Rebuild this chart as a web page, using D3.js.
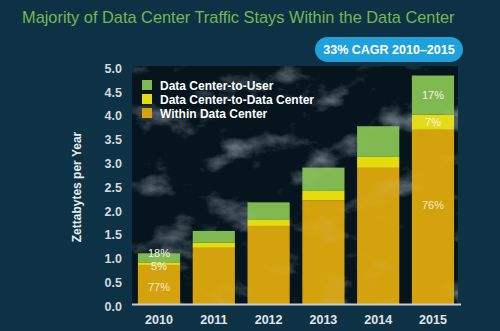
<!DOCTYPE html>
<html lang="en">
<head>
<meta charset="utf-8">
<title>Data Center Traffic</title>
<style>
  html, body { margin: 0; padding: 0; background: #0e3245; }
  svg { display: block; font-family: 'Liberation Sans', Arial, sans-serif; }
</style>
<script src="https://cdn.jsdelivr.net/npm/d3@7"></script>
</head>
<body>
<script>
// traffic per year, zettabytes
var years = ["2010", "2011", "2012", "2013", "2014", "2015"];
var withinDC = [0.82, 1.18, 1.64, 2.18, 2.86, 3.66];
var dcToDc = [0.055, 0.105, 0.126, 0.195, 0.23, 0.32];
var dcToUser = [0.19, 0.25, 0.37, 0.49, 0.645, 0.82];
var seriesNames = ["Data Center-to-User", "Data Center-to-Data Center", "Within Data Center"];
var yTicks = [0, 0.5, 1, 1.5, 2, 2.5, 3, 3.5, 4, 4.5, 5];
var labelledYears = ["2010", "2015"];

var W = 500, H = 331;
var plot = { left: 132, right: 458, top: 66, bottom: 304 };

var colors = {
    "Within Data Center": "#d4a20c",
    "Data Center-to-Data Center": "#e6dc0a",
    "Data Center-to-User": "#7fb94f"
};

var svg = d3.select("body").append("svg")
    .attr("width", W)
    .attr("height", H);

var defs = svg.append("defs");

// wispy haze for the plot backdrop
var f = defs.append("filter").attr("id", "clouds")
    .attr("x", 0).attr("y", 0).attr("width", "100%").attr("height", "100%");
f.append("feTurbulence")
    .attr("type", "fractalNoise")
    .attr("baseFrequency", "0.02 0.03")
    .attr("numOctaves", 5)
    .attr("seed", 11);
f.append("feColorMatrix")
    .attr("type", "matrix")
    .attr("values", "0 0 0 0 0.62  0 0 0 0 0.72  0 0 0 0 0.78  3.2 0 0 0 -1.7");

defs.append("clipPath").attr("id", "plotClip")
    .append("rect")
    .attr("x", plot.left).attr("y", plot.top)
    .attr("width", plot.right - plot.left)
    .attr("height", plot.bottom - plot.top);

// title, sized to fit its line
var title = svg.append("text")
    .attr("x", 22)
    .attr("y", 23)
    .attr("fill", "#74b754")
    .attr("font-family", "'Liberation Sans Narrow', 'Liberation Sans', Arial, sans-serif")
    .attr("font-size", 20)
    .text("Majority of Data Center Traffic Stays Within the Data Center");
var tw = title.node().getComputedTextLength();
if (tw > 433) title.attr("font-size", 20 * 433 / tw);
else title.attr("letter-spacing", (433 - tw) / 59);

// CAGR badge
svg.append("rect")
    .attr("x", 315).attr("y", 37)
    .attr("width", 148).attr("height", 25)
    .attr("rx", 12.5)
    .attr("fill", "#1fa2dc");
svg.append("text")
    .attr("x", 389).attr("y", 54)
    .attr("text-anchor", "middle")
    .attr("fill", "#ffffff")
    .attr("font-size", 12.5)
    .attr("font-weight", "bold")
    .text("33% CAGR 2010\u20132015");

// plot backdrop
svg.append("rect")
    .attr("x", plot.left).attr("y", plot.top)
    .attr("width", plot.right - plot.left)
    .attr("height", plot.bottom - plot.top)
    .attr("fill", "#06141e");

var cloudLayer = svg.append("g").attr("clip-path", "url(#plotClip)");
cloudLayer.append("rect")
    .attr("x", plot.left).attr("y", plot.top)
    .attr("width", plot.right - plot.left)
    .attr("height", plot.bottom - plot.top)
    .attr("filter", "url(#clouds)")
    .attr("opacity", 0.38);

var x = d3.scaleBand()
    .domain(years)
    .range([132, 460])
    .paddingInner(0.23)
    .paddingOuter(0.108);

var y = d3.scaleLinear()
    .domain([0, 5])
    .range([plot.bottom, plot.top]);

var table = years.map(function (yr, i) {
    return {
        year: yr,
        "Within Data Center": withinDC[i],
        "Data Center-to-Data Center": dcToDc[i],
        "Data Center-to-User": dcToUser[i]
    };
});

var stack = d3.stack().keys(["Within Data Center", "Data Center-to-Data Center", "Data Center-to-User"]);
var layers = stack(table);

var barG = svg.append("g");
layers.forEach(function (layer) {
    barG.selectAll(null)
        .data(layer)
        .enter().append("rect")
        .attr("x", function (d) { return x(d.data.year); })
        .attr("y", function (d) { return y(d[1]); })
        .attr("width", x.bandwidth())
        .attr("height", function (d) { return y(d[0]) - y(d[1]); })
        .attr("fill", colors[layer.key]);
});

// faint haze over the bars too
var barHaze = svg.append("g").attr("clip-path", "url(#plotClip)");
barHaze.append("rect")
    .attr("x", plot.left).attr("y", plot.top)
    .attr("width", plot.right - plot.left)
    .attr("height", plot.bottom - plot.top)
    .attr("filter", "url(#clouds)")
    .attr("opacity", 0.12);

// share labels on first and last bars
layers.forEach(function (layer) {
    layer.forEach(function (d) {
        if (labelledYears.indexOf(d.data.year) < 0) return;
        var total = d.data["Within Data Center"] + d.data["Data Center-to-Data Center"] + d.data["Data Center-to-User"];
        var pct = Math.round((d[1] - d[0]) / total * 100);
        var y0 = y(d[1]), y1 = y(d[0]);
        var cy = (y0 + y1) / 2;
        if (y1 - y0 > 100) cy = y0 + (y1 - y0) * 0.43;
        if (d.data.year === "2010") {
            if (layer.key === "Data Center-to-User") cy -= 5;
            if (layer.key === "Data Center-to-Data Center") cy += 2;
            if (layer.key === "Within Data Center") cy += 2.5;
        }
        svg.append("text")
            .attr("x", x(d.data.year) + x.bandwidth() / 2)
            .attr("y", cy + 4)
            .attr("text-anchor", "middle")
            .attr("fill", layer.key === "Within Data Center" ? "#f3ead2" : "#f4f4ee")
            .attr("font-size", 11)
            .text(pct + "%");
    });
});

// baseline
svg.append("line")
    .attr("x1", 132).attr("x2", 461)
    .attr("y1", plot.bottom + 0.5).attr("y2", plot.bottom + 0.5)
    .attr("stroke", "#c9cdd0")
    .attr("stroke-width", 2);

// y axis labels
var yAxis = svg.append("g")
    .attr("transform", "translate(122,0)")
    .call(d3.axisLeft(y).tickValues(yTicks).tickFormat(d3.format(".1f")).tickSize(0).tickPadding(0));
yAxis.select(".domain").remove();
yAxis.selectAll("text")
    .attr("fill", "#d5dadd")
    .attr("font-size", 12.5)
    .attr("font-weight", "bold")
    .attr("font-family", "'Liberation Sans', Arial, sans-serif")
    .attr("dy", "0.5em");

// x axis labels
var xAxis = svg.append("g")
    .attr("transform", "translate(0," + plot.bottom + ")")
    .call(d3.axisBottom(x).tickSize(0).tickPadding(0));
xAxis.select(".domain").remove();
xAxis.selectAll("text")
    .attr("fill", "#e2e6e8")
    .attr("font-size", 12.5)
    .attr("font-weight", "bold")
    .attr("font-family", "'Liberation Sans', Arial, sans-serif")
    .attr("y", 20)
    .attr("dy", 0);

// y title
svg.append("text")
    .attr("transform", "translate(81,187) rotate(-90)")
    .attr("text-anchor", "middle")
    .attr("fill", "#e8ecee")
    .attr("font-size", 12)
    .attr("font-weight", "bold")
    .text("Zettabytes per Year");

// legend
var legend = svg.append("g").attr("transform", "translate(142,80)");
seriesNames.forEach(function (name, i) {
    var row = legend.append("g").attr("transform", "translate(0," + (i * 14) + ")");
    row.append("rect")
        .attr("width", 10).attr("height", 10)
        .attr("fill", colors[name]);
    row.append("text")
        .attr("x", 18).attr("y", 9.5)
        .attr("fill", "#ffffff")
        .attr("font-size", 12)
        .attr("font-weight", "bold")
        .text(name);
});
</script>
</body>
</html>
